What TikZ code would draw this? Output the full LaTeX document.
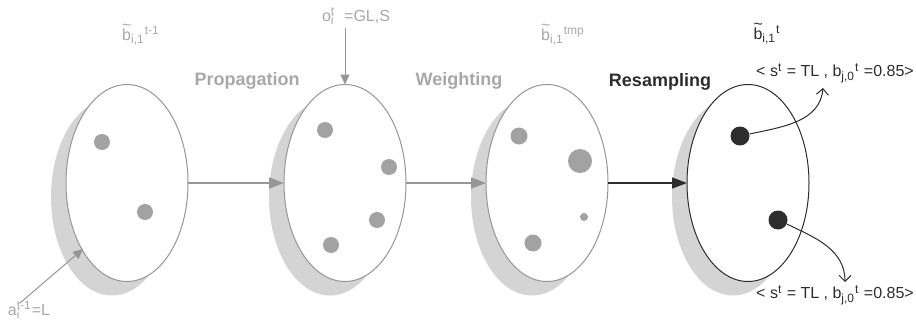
\documentclass[tikz,border=0pt]{standalone}
\usepackage{fontspec}
\setmainfont{Liberation Sans}
\usepackage{xcolor}
\usetikzlibrary{shapes.geometric,arrows.meta}
\definecolor{paletxt}{RGB}{168,168,168}
\definecolor{dotgray}{RGB}{162,162,162}
\definecolor{shadegray}{RGB}{212,212,212}
\definecolor{rimgray}{RGB}{150,150,150}
\definecolor{darkink}{RGB}{45,45,45}
\newcommand{\tildeb}{\leavevmode\rlap{\raisebox{0.6em}{\char"7E}}b}
\newcommand{\supsub}[2]{\rlap{\textsubscript{#2}}\textsuperscript{#1}}

\begin{document}
\begin{tikzpicture}[x=0.5pt,y=0.5pt,
  belief/.style={ellipse, draw=rimgray, fill=white, line width=0.5pt, inner sep=0pt, outer sep=0pt, minimum width=61pt, minimum height=98.5pt},
  backshade/.style={ellipse, fill=shadegray, inner sep=0pt, minimum width=61pt, minimum height=98.5pt},
  particle/.style={circle, fill=dotgray, inner sep=0pt, minimum size=8pt},
  stepname/.style={font=\fontsize{9}{10}\selectfont\bfseries},
  small/.style={font=\fontsize{8}{9}\selectfont, inner sep=0pt},
  flow/.style={-{Triangle[length=7.5pt,width=5.5pt]}, line width=0.7pt},
  thin/.style={-{Triangle[length=5pt,width=4.5pt]}, line width=0.5pt, color=rimgray},
  pick/.style={-{Straight Barb[length=3pt,width=6pt]}, line width=0.5pt, color=darkink}]
\useasboundingbox (0,0) rectangle (916,-332);

% shadows
\node[backshade] (s1) at (112,-197) {};
\node[backshade] (s2) at (330,-197) {};
\node[backshade] (s3) at (532,-197) {};
\node[backshade] (s4) at (733,-197) {};

% belief sets
\node[belief] (e1) at (127,-183) {};
\node[belief] (e2) at (345,-183) {};
\node[belief] (e3) at (547,-183) {};
\node[belief, draw=darkink] (e4) at (748,-183) {};

% particles
\node[particle] (p11) at (102,-142) {};
\node[particle] (p12) at (145,-212) {};
\node[particle] (p21) at (325,-130) {};
\node[particle] (p22) at (389,-167) {};
\node[particle] (p23) at (377,-220) {};
\node[particle] (p24) at (331,-245) {};
\node[particle, minimum size=8.5pt] (p31) at (519,-136) {};
\node[particle, minimum size=12pt] (p32) at (580,-161) {};
\node[particle, minimum size=4pt] (p33) at (584,-217) {};
\node[particle, minimum size=8.5pt] (p34) at (533,-243) {};
\node[particle, fill=darkink, minimum size=9.5pt] (p41) at (740,-136) {};
\node[particle, fill=darkink, minimum size=9.5pt] (p42) at (778,-220) {};

% labels
\node[stepname, color=paletxt] (prop) at (247,-81) {Propagation};
\node[stepname, color=paletxt] (wgt) at (459,-81) {Weighting};
\node[stepname, color=darkink] (res) at (660,-82) {Resampling};
\node[small, color=paletxt] (b1) at (141,-35) {\tildeb\textsubscript{i,1}\textsuperscript{t-1}};
\node[small, color=paletxt] (b3) at (563,-35) {\tildeb\textsubscript{i,1}\textsuperscript{tmp}};
\node[small, color=darkink] (b4) at (767,-34) {\tildeb\textsubscript{i,1}\textsuperscript{t}};
\node[small, color=paletxt] (obs) at (356,-16) {o\supsub{t}{i}\ \ =GL,S};
\node[small, color=paletxt] (act) at (29,-310) {a\supsub{t-1}{i}=L};
\node[small, color=darkink] (lt) at (835,-73) {< s\textsuperscript{t} = TL , b\textsubscript{j,0}\textsuperscript{t} =0.85>};
\node[small, color=darkink] (lb) at (835,-295) {< s\textsuperscript{t} = TL , b\textsubscript{j,0}\textsuperscript{t} =0.85>};
\coordinate (tt) at (823,-88);
\coordinate (tb) at (845,-282);
\coordinate (ot) at (345,-28);
\coordinate (at) at (20,-303);

\draw[flow, color=rimgray] (e1) -- (e2);
\draw[flow, color=rimgray] (e2) -- (e3);
\draw[flow, color=darkink] (e3) -- (e4);
\draw[thin] (ot) -- (e2.north);
\draw[thin] (at) -- (83,-249);
\draw[pick] (p41) to[out=12, in=-95] (tt);
\draw[pick] (p42) to[out=-25, in=90] (tb);

\end{tikzpicture}
\end{document}
